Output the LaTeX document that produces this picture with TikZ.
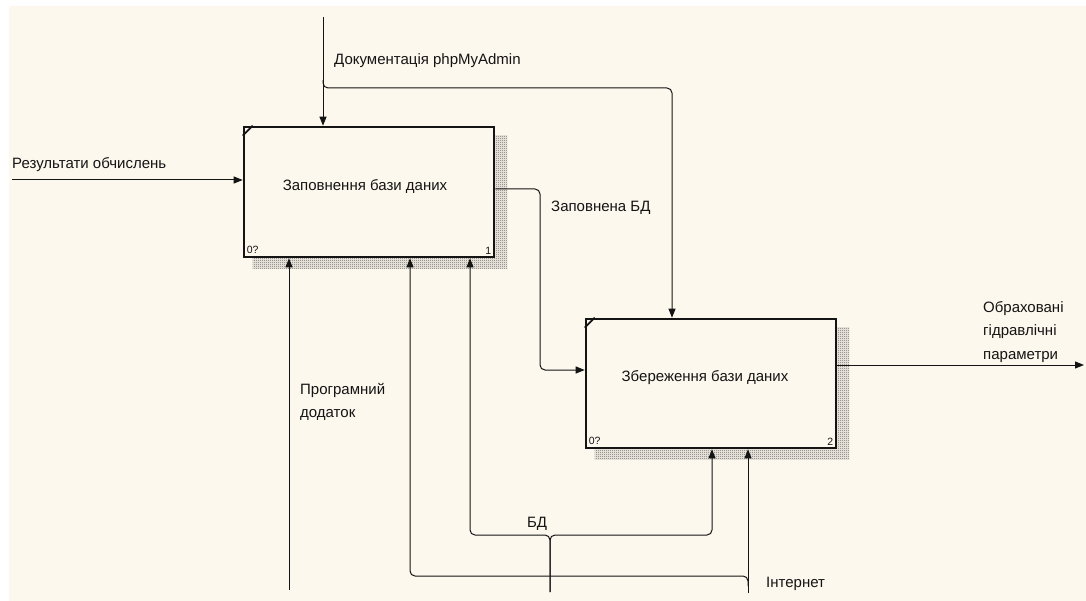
\documentclass[tikz,border=0pt]{standalone}
\usepackage{fontspec}
\setmainfont{Liberation Sans}
\usetikzlibrary{arrows.meta,patterns.meta,backgrounds}
\definecolor{paper}{HTML}{FDF8EE}
\definecolor{shade}{gray}{0.2}
\definecolor{ink}{HTML}{141414}

% fine checker used for the IDEF0 box shadows
\tikzdeclarepattern{
  name=idefhatch, type=uncolored,
  bounding box={(0pt,0pt) and (2pt,2pt)},
  tile size={(2pt,2pt)},
  code={\fill (0pt,0pt) rectangle (1pt,1pt); \fill (1pt,1pt) rectangle (2pt,2pt);}
}

\tikzset{
  func/.style={draw=ink, line width=2.6pt, fill=paper, minimum width=250pt,
               minimum height=130pt, inner sep=0pt},
  flow/.style={draw=ink, line width=1pt, rounded corners=5pt},
  tip/.style={-{Triangle[length=9pt,width=7pt]}},
  lbl/.style={font=\fontsize{15}{23.5}\selectfont, inner sep=0pt, text=ink},
  tiny/.style={font=\fontsize{10.5}{10.5}\selectfont, inner sep=0pt, text=ink}
}

\begin{document}
\begin{tikzpicture}[x=1pt, y=-1pt]
\useasboundingbox (0,0) rectangle (1086,601);

% activity boxes
\node[func] (b1) at (369,192) {};
\node[func, minimum height=129pt] (b2) at (711,383.5) {};

\begin{scope}[on background layer]
  \fill[white] (0,0) rectangle (1086,601);
  \fill[paper] (9,6) rectangle (1086,601);
  \fill[pattern=idefhatch, pattern color=shade]
    ([shift={(10pt,-10pt)}]b1.north west) rectangle ([shift={(12pt,-10pt)}]b1.south east);
  \fill[pattern=idefhatch, pattern color=shade]
    ([shift={(10pt,-10pt)}]b2.north west) rectangle ([shift={(12pt,-10pt)}]b2.south east);
\end{scope}

% box titles and corner marks
\node[lbl] (t1) at (365,186) {Заповнення бази даних};
\node[lbl] (t2) at (705,378) {Збереження бази даних};
\foreach \b/\n in {b1/1, b2/2}{
  \draw[ink, line width=1.8pt] ([xshift=10pt]\b.north west) -- ([yshift=-10pt]\b.north west);
  \node[tiny, anchor=south west] (\b-node) at ([shift={(4pt,4pt)}]\b.south west) {0?};
  \node[tiny, anchor=south east] (\b-num) at ([shift={(-4pt,4pt)}]\b.south east) {\n};
}

% control: documentation
\coordinate (docsrc) at (323,17);
\coordinate (docfork) at (323,88);
\coordinate (docturn) at (672,88);
\draw[flow,tip] (docsrc) -- (docsrc |- b1.north);
\draw[flow,tip] ([yshift=8pt]docfork) -- (docfork) -- (docturn) -- (docturn |- b2.north);
\node[lbl, anchor=west] (ldoc) at (334,61) {Документація phpMyAdmin};

% input
\coordinate (insrc) at (12,180);
\draw[flow,tip] (insrc) -- (insrc -| b1.west);
\node[lbl, anchor=west] (lin) at (12,165) {Результати обчислень};

% b1 -> b2
\coordinate (o1a) at (540,189);
\coordinate (o1b) at (540,370);
\draw[flow,tip] (b1.east |- o1a) -- (o1a) -- (o1b) -- (o1b -| b2.west);
\node[lbl, anchor=west] (lfill) at (551,208) {Заповнена БД};

% output
\coordinate (outend) at (1084,365);
\draw[flow,tip] (b2.east |- outend) -- (outend);
\node[lbl, anchor=west, align=left] (lout) at (983,332) {Обраховані\\гідравлічні\\параметри};

% mechanism: application
\coordinate (progsrc) at (289,590);
\draw[flow,tip] (progsrc) -- (progsrc |- b1.south);
\node[lbl, anchor=west, align=left] (lprog) at (300,402) {Програмний\\додаток};

% mechanism: internet
\coordinate (netsrc) at (748,593);
\coordinate (netfork) at (748,576);
\coordinate (netturn) at (410,576);
\draw[flow,tip] (netsrc) -- (netsrc |- b2.south);
\draw[flow,tip] ([yshift=-10pt]netfork) -- (netfork) -- (netturn) -- (netturn |- b1.south);
\node[lbl, anchor=west] (lnet) at (766,584) {Інтернет};

% mechanism: database
\coordinate (dbsrc) at (550,592);
\coordinate (dbfork) at (550,535);
\coordinate (dbl) at (470,535);
\coordinate (dbr) at (712,535);
\draw[flow,tip] (dbsrc) -- (dbfork) -- (dbl) -- (dbl |- b1.south);
\draw[flow,tip] (dbsrc) -- (dbfork) -- (dbr) -- (dbr |- b2.south);
\node[lbl] (ldb) at (537,524) {БД};
\end{tikzpicture}
\end{document}
